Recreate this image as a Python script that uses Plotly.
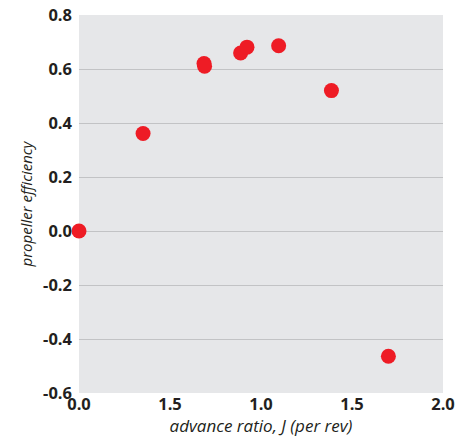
import plotly.graph_objects as go

advance_ratio = [0.0, 0.352, 0.687, 0.690, 0.888, 0.923, 1.097, 1.387, 1.700]
efficiency = [0.0, 0.361, 0.620, 0.610, 0.659, 0.681, 0.686, 0.520, -0.464]

x_tickvals = [0.0, 0.5, 1.0, 1.5, 2.0]
x_ticktext = ["0.0", "1.5", "1.0", "1.5", "2.0"]
y_tickvals = [0.8, 0.6, 0.4, 0.2, 0.0, -0.2, -0.4, -0.6]
y_ticktext = ["0.8", "0.6", "0.4", "0.2", "0.0", "-0.2", "-0.4", "-0.6"]

fig = go.Figure()
fig.add_trace(go.Scatter(
    x=advance_ratio, y=efficiency, mode="markers",
    marker=dict(size=15, color="#ee1c25", line=dict(width=0)),
    cliponaxis=False, showlegend=False,
))

tick_font = dict(family="Open Sans", size=16.5, color="#231f20", weight="bold")
xtitle_font = dict(family="Open Sans", size=17, color="#231f20", style="italic")
ytitle_font = dict(family="Open Sans", size=15, color="#231f20", style="italic")

# page body has an 8px default margin, so the figure is sized to fit the window
fig.update_layout(
    width=459, height=436,
    margin=dict(l=71, r=24, t=7, b=51, autoexpand=False),
    paper_bgcolor="white",
    plot_bgcolor="#e6e7e9",
    xaxis=dict(
        range=[0, 2], tickvals=x_tickvals, ticktext=x_ticktext,
        showgrid=False, zeroline=False, showline=False, automargin=False,
        tickfont=tick_font, ticks="", ticklabelstandoff=-1,
        ticklabeloverflow="allow",
        title=dict(text="advance ratio, J (per rev)", font=xtitle_font, standoff=0),
    ),
    yaxis=dict(
        range=[-0.6, 0.8], tickvals=y_tickvals, ticktext=y_ticktext,
        showgrid=True, gridcolor="#c2c3c5", gridwidth=1,
        zeroline=False, showline=False, automargin=False,
        tickfont=tick_font, ticks="", ticklabelstandoff=6,
        ticklabeloverflow="allow",
        title=dict(text="propeller efficiency", font=ytitle_font, standoff=6),
    ),
)

fig.write_html("out.html")
